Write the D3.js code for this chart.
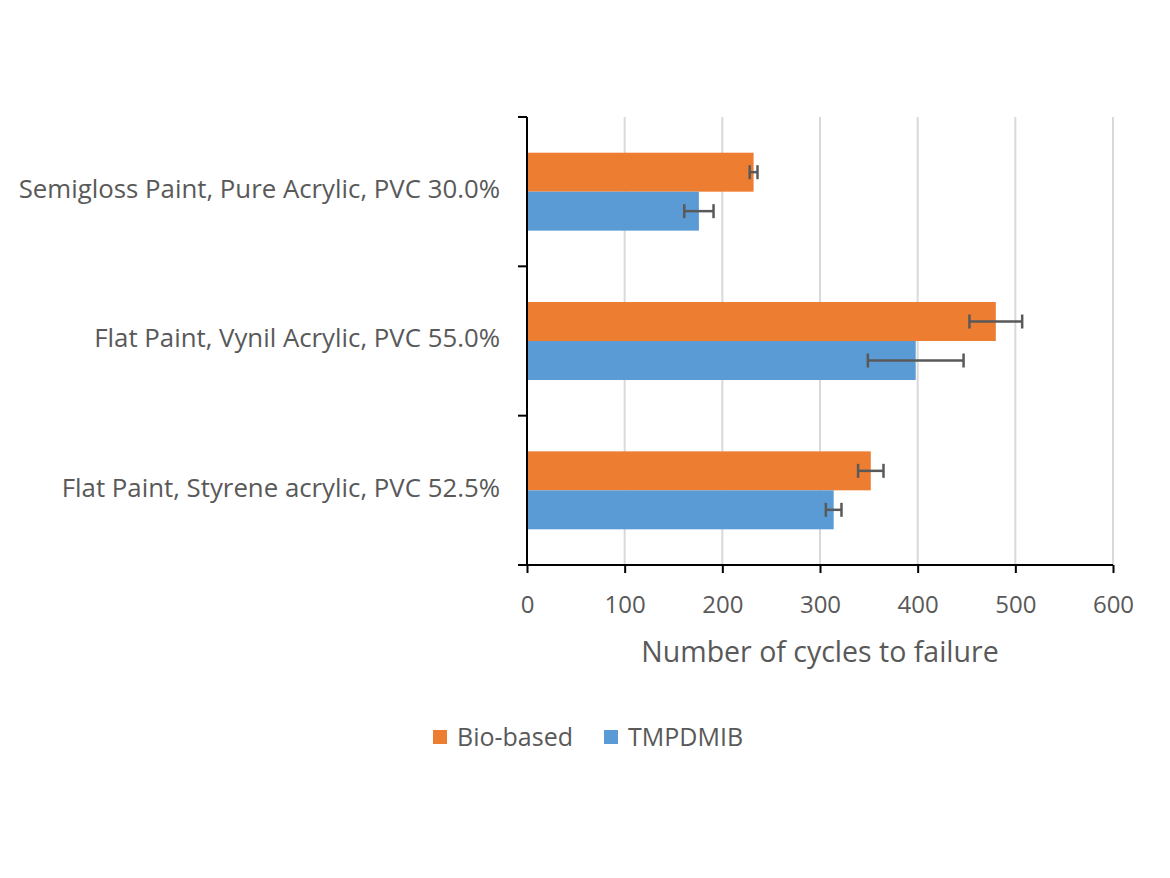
<!DOCTYPE html>
<html><head><meta charset="utf-8">
<script src="https://cdn.jsdelivr.net/npm/d3@7/dist/d3.min.js"></script>
<style>body{margin:0;background:#fff;} svg{display:block;}</style>
</head><body>
<svg id="c" width="1170" height="878"></svg>
<script>
const categories = ["Semigloss Paint, Pure Acrylic, PVC 30.0%", "Flat Paint, Vynil Acrylic, PVC 55.0%", "Flat Paint, Styrene acrylic, PVC 52.5%"];
const seriesNames = ["Bio-based", "TMPDMIB"];
const bioBased = [232, 480, 352];
const bioBasedErr = [4, 27, 13];
const tmpdmib = [176, 398, 314];
const tmpdmibErr = [15, 49, 8];
const xTicks = [0, 100, 200, 300, 400, 500, 600];
const colors = ["#ED7D31", "#5B9BD5"];

const font = "'Open Sans', 'Noto Sans', sans-serif";
const svg = d3.select("#c");
const L = 527, R = 1113, T = 117, B = 565;
const x = d3.scaleLinear().domain([0, 600]).range([L, R]);
const y = d3.scaleBand().domain(categories).range([T, B]).paddingInner(0).paddingOuter(0);
const bandPad = 0.239;
const sub = d3.scaleBand().domain(seriesNames).range([y.bandwidth()*bandPad, y.bandwidth()*(1-bandPad)]);

// gridlines
svg.append("g").selectAll("line").data(xTicks.slice(1)).join("line")
  .attr("x1", d => x(d)).attr("x2", d => x(d)).attr("y1", T).attr("y2", B)
  .attr("stroke", "#d9d9d9").attr("stroke-width", 2);

const series = [
  {name: seriesNames[0], vals: bioBased, err: bioBasedErr, color: colors[0]},
  {name: seriesNames[1], vals: tmpdmib, err: tmpdmibErr, color: colors[1]}
];

series.forEach(s => {
  const g = svg.append("g");
  g.selectAll("rect").data(categories).join("rect")
    .attr("x", x(0)).attr("y", (c) => y(c) + sub(s.name))
    .attr("width", (c, i) => x(s.vals[i]) - x(0)).attr("height", sub.bandwidth())
    .attr("fill", s.color);
});
series.forEach(s => {
  const g = svg.append("g").attr("stroke", "#595959").attr("stroke-width", 2.5);
  categories.forEach((c, i) => {
    const cy = y(c) + sub(s.name) + sub.bandwidth()/2;
    const x1 = x(s.vals[i] - s.err[i]), x2 = x(s.vals[i] + s.err[i]);
    g.append("line").attr("x1", x1).attr("x2", x2).attr("y1", cy).attr("y2", cy);
    g.append("line").attr("x1", x1).attr("x2", x1).attr("y1", cy-7).attr("y2", cy+7);
    g.append("line").attr("x1", x2).attr("x2", x2).attr("y1", cy-7).attr("y2", cy+7);
  });
});

// x axis
const xa = svg.append("g").attr("transform", `translate(0,${B})`)
  .call(d3.axisBottom(x).tickValues(xTicks).tickSize(8).tickFormat(d3.format("d")));
xa.select(".domain").attr("stroke", "#000").attr("stroke-width", 2).attr("d", `M${L-7},0H${R}`);
xa.selectAll(".tick line").attr("stroke", "#000").attr("stroke-width", 2);
xa.selectAll("text").attr("y", 48).attr("dy", 0).attr("font-family", font).attr("font-size", 24).attr("fill", "#595959");

// y axis
const ya = svg.append("g").attr("transform", `translate(${L},0)`);
ya.append("line").attr("x1", 0).attr("x2", 0).attr("y1", T).attr("y2", B).attr("stroke", "#000").attr("stroke-width", 2);
const bounds = [T].concat(categories.map(c => y(c) + y.bandwidth()));
ya.selectAll(".yt").data(bounds).join("line").attr("class", "yt")
  .attr("x1", -9).attr("x2", 0).attr("y1", d => d).attr("y2", d => d)
  .attr("stroke", "#000").attr("stroke-width", 2);
ya.selectAll("text").data(categories).join("text")
  .attr("x", -27).attr("y", c => y(c) + y.bandwidth()/2).attr("dy", "0.25em")
  .attr("text-anchor", "end").attr("font-family", font).attr("font-size", 25.8).attr("fill", "#595959")
  .text(c => c);

// axis title
svg.append("text").attr("x", (L+R)/2).attr("y", 662).attr("text-anchor", "middle")
  .attr("font-family", font).attr("font-size", 28.5).attr("fill", "#595959").text("Number of cycles to failure");

// legend
const leg = svg.append("g");
const legX = [433, 604];
series.forEach((s, i) => {
  leg.append("rect").attr("x", legX[i]).attr("y", 730).attr("width", 14).attr("height", 14).attr("fill", s.color);
  leg.append("text").attr("x", legX[i] + 24).attr("y", 737).attr("dy", "0.35em")
    .attr("font-family", font).attr("font-size", 25).attr("fill", "#595959").text(s.name);
});
</script>
</body></html>
